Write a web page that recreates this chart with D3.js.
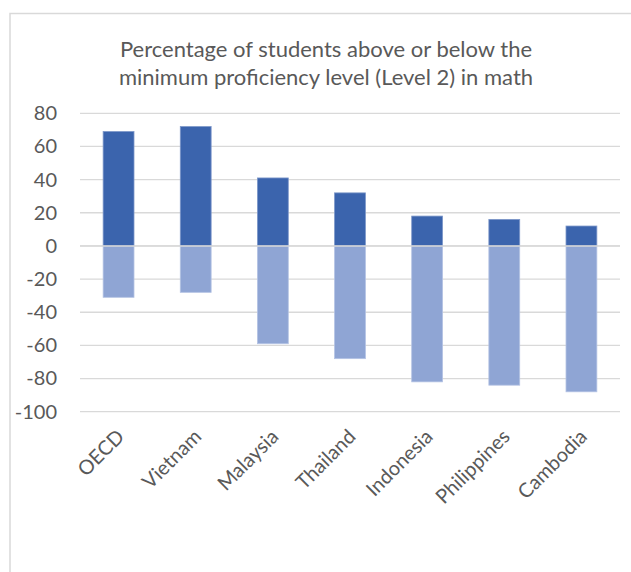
<!DOCTYPE html>
<html>
<head>
<meta charset="utf-8">
<script src="https://cdn.jsdelivr.net/npm/d3@7"></script>
<style>
  body { margin: 0; background: #fff; }
  text { font-family: Lato, "Open Sans", sans-serif; fill: #595959; }
</style>
</head>
<body>
<div id="chart"></div>
<script>
// data
let countries = ["OECD", "Vietnam", "Malaysia", "Thailand", "Indonesia", "Philippines", "Cambodia"];
let above = [69, 72, 41, 32, 18, 16, 12];
let below = [-31, -28, -59, -68, -82, -84, -88];
let yTicks = [80, 60, 40, 20, 0, -20, -40, -60, -80, -100];
let titleLines = ["Percentage of students above or below the", "minimum proficiency level (Level 2) in math"];

let width = 631, height = 572;

let svg = d3.select("#chart")
    .append("svg")
    .attr("width", width)
    .attr("height", height);

// chart frame
svg.append("rect")
    .attr("x", 10).attr("y", 13.5)
    .attr("width", 640).attr("height", 600)
    .attr("fill", "none")
    .attr("stroke", "#d9d9d9")
    .attr("stroke-width", 1.5);

let x = d3.scaleBand()
    .domain(countries)
    .range([80, 620])
    .paddingInner(0.6)
    .paddingOuter(0.3);

let y = d3.scaleLinear()
    .domain([-100, 80])
    .range([411.7, 113.3]);

// gridlines
svg.append("g")
    .selectAll("line")
    .data(yTicks)
    .enter()
    .append("line")
    .attr("x1", 80).attr("x2", 620)
    .attr("y1", d => y(d)).attr("y2", d => y(d))
    .attr("stroke", "#d9d9d9")
    .attr("stroke-width", 1.3);

// y axis labels (plain hyphen like the original)
svg.append("g")
    .attr("transform", "translate(57,0)")
    .call(d3.axisLeft(y).tickValues(yTicks).tickSize(0).tickPadding(0)
        .tickFormat(d => String(d)))
    .call(g => g.select(".domain").remove())
    .selectAll("text")
    .style("font-size", "20px")
    .attr("fill", "#595959");

let rows = countries.map((c, i) => ({ name: c, above: above[i], below: below[i] }));

// negative part
svg.append("g")
    .selectAll("rect")
    .data(rows)
    .enter()
    .append("rect")
    .attr("x", d => x(d.name))
    .attr("y", y(0))
    .attr("width", x.bandwidth())
    .attr("height", d => y(d.below) - y(0))
    .attr("fill", "#8FA5D4")
    .attr("stroke", "#b4c3e4")
    .attr("stroke-width", 0.8);

// positive part
svg.append("g")
    .selectAll("rect")
    .data(rows)
    .enter()
    .append("rect")
    .attr("x", d => x(d.name))
    .attr("y", d => y(d.above))
    .attr("width", x.bandwidth())
    .attr("height", d => y(0) - y(d.above))
    .attr("fill", "#3B64AD")
    .attr("stroke", "#7d97c9")
    .attr("stroke-width", 0.8);

// zero line on top of the bars
svg.append("line")
    .attr("x1", 80).attr("x2", 620)
    .attr("y1", y(0)).attr("y2", y(0))
    .attr("stroke", "#d9d9d9")
    .attr("stroke-width", 1.5);

// x labels, rotated
svg.append("g")
    .selectAll("text")
    .data(countries)
    .enter()
    .append("text")
    .attr("transform", d => `translate(${x(d) + x.bandwidth() / 2 - 3}, 428) rotate(-45)`)
    .attr("text-anchor", "end")
    .attr("dy", "0.7em")
    .style("font-size", "20px")
    .text(d => d);

// title
svg.append("g")
    .selectAll("text")
    .data(titleLines)
    .enter()
    .append("text")
    .attr("x", 326)
    .attr("y", (d, i) => 57 + i * 28)
    .attr("text-anchor", "middle")
    .style("font-size", "22px")
    .text(d => d);
</script>
</body>
</html>
